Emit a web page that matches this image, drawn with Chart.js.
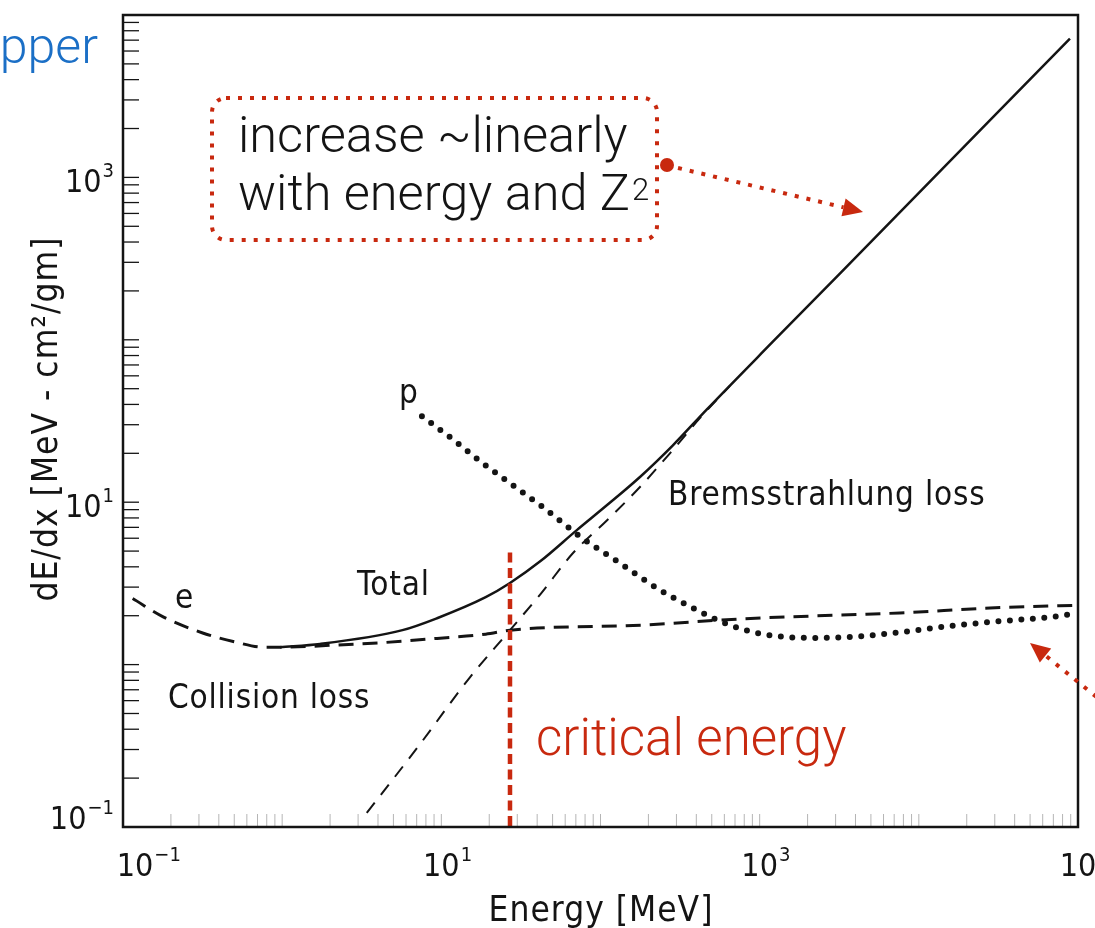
<!DOCTYPE html>
<html>
<head>
<meta charset="utf-8">
<script src="https://cdn.jsdelivr.net/npm/chart.js@4.4.1/dist/chart.umd.min.js"></script>
<style>
  html, body { margin: 0; padding: 0; background: #fff; }
  canvas { display: block; }
</style>
</head>
<body>
<canvas id="c" width="1095" height="928"></canvas>
<script>
// Electron energy loss in copper: collision, bremsstrahlung and total, plus proton collision loss.
// Energies in MeV, dE/dx in MeV cm^2/g.
const totalE = [0.97, 1.73, 5.7, 9.4, 19, 27, 42, 71, 110, 177, 285, 466, 1210, 3190, 89000];
const totalLoss = [1.28, 1.34, 1.63, 1.93, 2.6, 3.18, 4.34, 6.73, 9.6, 14.3, 22.4, 37.3, 97.3, 256, 7160];

const collisionE = [0.115, 0.18, 0.32, 0.52, 0.76, 1.0, 2.2, 4.5, 9.4, 19, 27, 180, 750, 3200, 7600, 28000, 100000];
const collisionLoss = [2.55, 1.96, 1.56, 1.37, 1.28, 1.28, 1.32, 1.37, 1.45, 1.54, 1.63, 1.75, 1.91, 2.02, 2.08, 2.23, 2.32];

const bremsE = [3.4, 7.35, 15, 27, 42, 67, 110, 177, 273, 421, 650];
const bremsLoss = [0.122, 0.324, 0.826, 1.63, 2.72, 4.85, 7.74, 12.4, 20, 32.9, 52];

const protonE = [7.55, 11.8, 18.2, 28.2, 43.5, 77, 127, 226, 380, 604, 1047, 2160, 3690, 7600, 15700, 32300, 66500, 98000];
const protonLoss = [33.8, 24.4, 17.4, 12.7, 9.3, 6.0, 4.34, 2.96, 2.23, 1.80, 1.54, 1.46, 1.48, 1.58, 1.73, 1.85, 1.96, 2.07];

const criticalEnergy = 27;      // MeV
const criticalLineTop = 4.9;    // top of the marker line, MeV cm^2/g

const xTickValues = [0.1, 10, 1000, 100000];
const xTickExponents = ['\u22121', '1', '3', '5'];
const yTickValues = [0.1, 10, 1000];
const yTickExponents = ['\u22121', '1', '3'];

const xRange = [0.1, 100000];
const yRange = [0.1, 10000];

const plotFont = '"DejaVu Sans Condensed", "DejaVu Sans", sans-serif';
const noteFont = 'Roboto, "Open Sans", Lato, sans-serif';
const ink = '#141414';
const red = '#c8290f';
const blue = '#1b6fc6';

const toPoints = (E, V) => E.map((e, i) => ({ x: e, y: V[i] }));

function dottedArrow(ctx, x0, y0, x1, y1) {
  const ang = Math.atan2(y1 - y0, x1 - x0);
  const head = 20, half = 9;
  const bx = x1 - head * Math.cos(ang), by = y1 - head * Math.sin(ang);
  ctx.save();
  ctx.strokeStyle = red;
  ctx.lineWidth = 4;
  ctx.setLineDash([4, 8]);
  ctx.beginPath();
  ctx.moveTo(x0, y0);
  ctx.lineTo(bx, by);
  ctx.stroke();
  ctx.setLineDash([]);
  ctx.fillStyle = red;
  ctx.beginPath();
  ctx.moveTo(x1, y1);
  ctx.lineTo(bx + half * Math.sin(ang), by - half * Math.cos(ang));
  ctx.lineTo(bx - half * Math.sin(ang), by + half * Math.cos(ang));
  ctx.closePath();
  ctx.fill();
  ctx.restore();
}

const paperPlugin = {
  id: 'paper',
  beforeDatasetsDraw(chart) {
    const { ctx, chartArea: a, scales: { x: xs, y: ys } } = chart;
    ctx.save();
    // inward minor/major ticks on the energy-loss axis
    ctx.strokeStyle = ink;
    ctx.lineWidth = 1.3;
    for (let d = -1; d < 4; d++) {
      for (let k = 1; k < 10; k++) {
        const py = ys.getPixelForValue(k * Math.pow(10, d));
        if (py < a.top + 2 || py > a.bottom - 2) continue;
        ctx.beginPath();
        ctx.moveTo(a.left, py);
        ctx.lineTo(a.left + 16, py);
        ctx.stroke();
      }
    }
    // faint inward ticks along the energy axis
    ctx.strokeStyle = '#b5b5b5';
    ctx.lineWidth = 1;
    for (let d = -1; d < 5; d++) {
      for (let k = 1; k < 10; k++) {
        const px = xs.getPixelForValue(k * Math.pow(10, d));
        if (px < a.left + 2 || px > a.right - 2) continue;
        ctx.beginPath();
        ctx.moveTo(px, a.bottom);
        ctx.lineTo(px, a.bottom - 13);
        ctx.stroke();
      }
    }
    ctx.restore();
  },
  afterDatasetsDraw(chart) {
    const { ctx, chartArea: a, scales: { x: xs, y: ys } } = chart;
    ctx.save();

    // critical energy marker
    const cx = xs.getPixelForValue(criticalEnergy);
    ctx.strokeStyle = red;
    ctx.lineWidth = 4.5;
    ctx.setLineDash([10, 5.5]);
    ctx.beginPath();
    ctx.moveTo(cx, ys.getPixelForValue(criticalLineTop));
    ctx.lineTo(cx, a.bottom);
    ctx.stroke();
    ctx.setLineDash([]);

    // frame
    ctx.strokeStyle = ink;
    ctx.lineWidth = 2.5;
    ctx.strokeRect(a.left, a.top, a.right - a.left, a.bottom - a.top);

    // tick labels as powers of ten
    ctx.fillStyle = ink;
    const mainF = `32px ${plotFont}`, supF = `20px ${plotFont}`;
    ctx.textBaseline = 'alphabetic';
    xTickValues.forEach((v, i) => {
      let px = xs.getPixelForValue(v);
      if (i === 0) px += 12;
      ctx.font = mainF;
      const w = ctx.measureText('10').width;
      ctx.textAlign = 'center';
      ctx.fillText('10', px, 876);
      ctx.font = supF;
      ctx.textAlign = 'left';
      ctx.fillText(xTickExponents[i], px + w / 2 + 1, 861);
    });
    yTickValues.forEach((v, i) => {
      const py = ys.getPixelForValue(v);
      ctx.font = supF;
      const sw = ctx.measureText(yTickExponents[i]).width;
      ctx.font = mainF;
      const tw = ctx.measureText('10').width;
      const right = 114;
      const base = Math.min(py + 15, 829);
      ctx.textAlign = 'left';
      ctx.fillText('10', right - sw - 1 - tw, base);
      ctx.font = supF;
      ctx.fillText(yTickExponents[i], right - sw, base - 15);
    });

    // axis titles
    ctx.letterSpacing = '1px';
    ctx.font = `35px ${plotFont}`;
    ctx.textAlign = 'center';
    ctx.fillText('Energy [MeV]', 601, 921);
    ctx.save();
    ctx.translate(57, 419);
    ctx.rotate(-Math.PI / 2);
    ctx.fillText('dE/dx [MeV - cm\u00b2/gm]', 0, 0);
    ctx.restore();

    // curve labels
    ctx.letterSpacing = '0.8px';
    ctx.font = `33px ${plotFont}`;
    ctx.textAlign = 'left';
    ctx.fillText('Total', 357, 595);
    ctx.fillText('e', 175, 608);
    ctx.fillText('Collision loss', 168, 708);
    ctx.fillText('p', 399, 403);
    ctx.fillText('Bremsstrahlung loss', 668, 505);
    ctx.letterSpacing = '0px';

    // note box
    ctx.strokeStyle = red;
    ctx.lineWidth = 4;
    ctx.setLineDash([4, 8]);
    ctx.beginPath();
    ctx.roundRect(212, 98, 445, 142, 14);
    ctx.stroke();
    ctx.setLineDash([]);

    ctx.fillStyle = ink;
    ctx.font = `300 50.5px ${noteFont}`;
    ctx.fillText('increase ~linearly', 238, 152);
    const l2 = 'with energy and Z';
    ctx.fillText(l2, 238, 210);
    const l2w = ctx.measureText(l2).width;
    ctx.font = `300 31px ${noteFont}`;
    ctx.fillText('2', 238 + l2w + 2, 200);

    // arrows
    ctx.fillStyle = red;
    ctx.beginPath();
    ctx.arc(667, 165, 7, 0, Math.PI * 2);
    ctx.fill();
    dottedArrow(ctx, 678, 168, 863, 212);
    dottedArrow(ctx, 1115, 712, 1030, 643);

    ctx.fillStyle = red;
    ctx.font = `300 51px ${noteFont}`;
    ctx.fillText('critical energy', 536, 755);

    ctx.fillStyle = blue;
    ctx.font = `300 50px ${noteFont}`;
    ctx.textAlign = 'right';
    ctx.fillText('Copper', 98, 63);

    ctx.restore();
  }
};

new Chart(document.getElementById('c'), {
  type: 'line',
  data: {
    datasets: [
      {
        label: 'Total',
        data: toPoints(totalE, totalLoss),
        borderColor: ink,
        borderWidth: 2.5,
        cubicInterpolationMode: 'monotone'
      },
      {
        label: 'Collision loss (e)',
        data: toPoints(collisionE, collisionLoss),
        borderColor: ink,
        borderWidth: 3,
        borderDash: [15, 9],
        cubicInterpolationMode: 'monotone'
      },
      {
        label: 'Bremsstrahlung loss',
        data: toPoints(bremsE, bremsLoss),
        borderColor: ink,
        borderWidth: 2,
        borderDash: [13, 10],
        cubicInterpolationMode: 'monotone'
      },
      {
        label: 'Collision loss (p)',
        data: toPoints(protonE, protonLoss),
        borderColor: ink,
        borderWidth: 6,
        borderDash: [0, 11.5],
        borderCapStyle: 'round',
        cubicInterpolationMode: 'monotone'
      }
    ]
  },
  options: {
    responsive: false,
    animation: false,
    events: [],
    layout: { padding: { left: 123, right: 17, top: 15, bottom: 101 } },
    elements: { point: { radius: 0 } },
    plugins: { legend: { display: false }, tooltip: { enabled: false } },
    scales: {
      x: { type: 'logarithmic', min: xRange[0], max: xRange[1], display: false },
      y: { type: 'logarithmic', min: yRange[0], max: yRange[1], display: false }
    }
  },
  plugins: [paperPlugin]
});
</script>
</body>
</html>
